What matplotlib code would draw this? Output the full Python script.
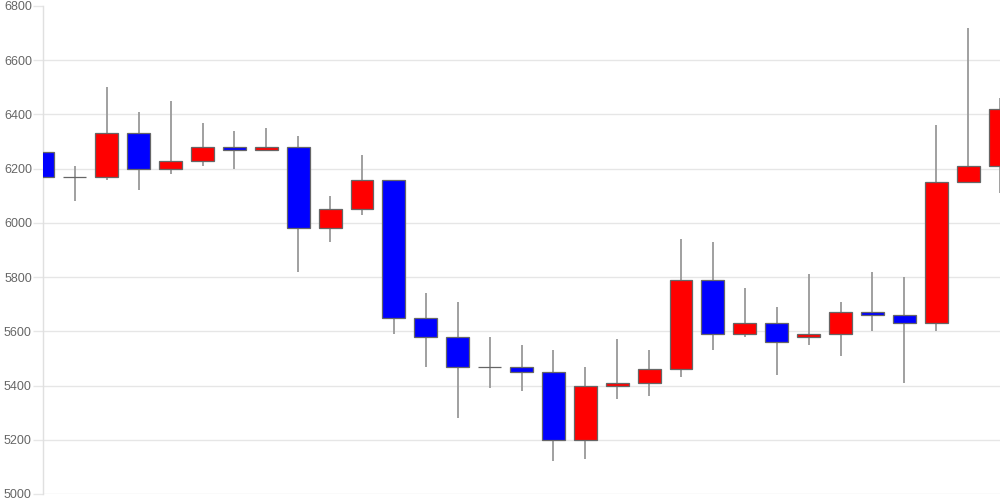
import matplotlib
matplotlib.use("Agg")
import matplotlib.pyplot as plt
import numpy as np

opens  = [6260, 6170, 6170, 6330, 6200, 6230, 6280, 6270, 6280, 5980, 6050, 6160, 5650, 5580, 5470, 5470,
          5450, 5200, 5400, 5410, 5460, 5790, 5590, 5630, 5580, 5590, 5670, 5660, 5630, 6150, 6210]
closes = [6170, 6170, 6330, 6200, 6230, 6280, 6270, 6280, 5980, 6050, 6160, 5650, 5580, 5470, 5470, 5450,
          5200, 5400, 5410, 5460, 5790, 5590, 5630, 5560, 5590, 5670, 5660, 5630, 6150, 6210, 6420]
highs  = [6290, 6210, 6500, 6410, 6450, 6370, 6340, 6350, 6320, 6100, 6250, 6160, 5740, 5710, 5580, 5550,
          5530, 5470, 5570, 5530, 5940, 5930, 5760, 5690, 5810, 5710, 5820, 5800, 6360, 6720, 6460]
lows   = [6050, 6080, 6160, 6120, 6180, 6210, 6200, 6270, 5820, 5930, 6030, 5590, 5470, 5280, 5390, 5380,
          5120, 5130, 5350, 5360, 5430, 5530, 5580, 5440, 5550, 5510, 5600, 5410, 5600, 6150, 6110]
y_ticks = [5000, 5200, 5400, 5600, 5800, 6000, 6200, 6400, 6600, 6800]

plt.rcParams['font.family'] = ['Liberation Sans', 'DejaVu Sans']

fig = plt.figure(figsize=(10, 5), dpi=100)
ax = fig.add_axes([0.043, 0.012, 0.957, 0.976])

x = np.arange(len(opens))
o = np.array(opens, float)
c = np.array(closes, float)
colors = []
for oo, cc in zip(o, c):
    if cc > oo:
        colors.append('#ff0000')
    elif cc < oo:
        colors.append('#0000ff')
    else:
        colors.append('#555555')

ax.vlines(x, lows, highs, color='#999999', lw=1.3, zorder=2)
bottoms = np.minimum(o, c)
heights = np.abs(c - o)
ax.bar(x, heights, bottom=bottoms, width=0.72, color=colors, edgecolor='#666666',
       linewidth=0.9, zorder=3)

ax.set_xlim(0, len(opens) - 1)
ax.set_ylim(5000, 6800)
ax.set_yticks(y_ticks)
ax.set_yticklabels([str(v) for v in y_ticks])
ax.set_xticks([])

ax.grid(axis='y', color='#e6e6e6', lw=1, zorder=0)
ax.set_axisbelow(True)
for s in ['top', 'right', 'bottom']:
    ax.spines[s].set_visible(False)
ax.spines['left'].set_color('#e0e0e0')
ax.spines['left'].set_linewidth(1)
ax.tick_params(axis='y', length=7, width=1, color='#e6e6e6', labelcolor='#666666',
               labelsize=9, pad=1)
gl = ax.yaxis.get_gridlines()
gl[-1].set_visible(False)

fig.savefig('out.png', dpi=100)
